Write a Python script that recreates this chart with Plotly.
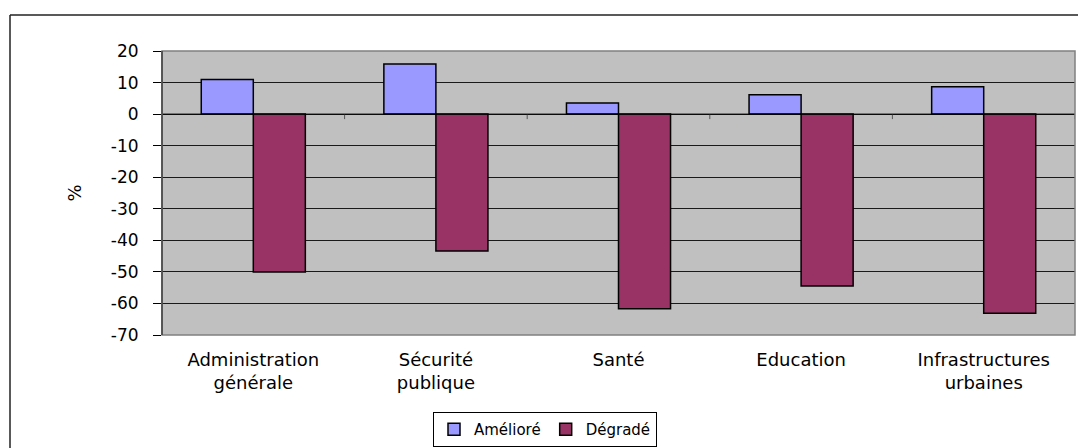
import plotly.graph_objects as go

categories = ["Administration<br>générale", "Sécurité<br>publique", "Santé", "Education", "Infrastructures<br>urbaines"]
ameliore = [11.0, 15.9, 3.5, 6.1, 8.7]
degrade = [-50.0, -43.4, -61.7, -54.5, -63.1]
ytick_vals = [20, 10, 0, -10, -20, -30, -40, -50, -60, -70]
ytick_text = ["20", "10", "0", "-10", "-20", "-30", "-40", "-50", "-60", "-70"]

FONT = "DejaVu Sans"
W, H = 1078, 448
L, R, T, B = 162, 3, 51, 113
pw, ph = W - L - R, H - T - B

fig = go.Figure()
fig.add_trace(go.Bar(name="Amélioré", x=list(range(len(categories))), y=ameliore,
                     marker=dict(color="#9999FF", line=dict(color="#000000", width=1.5))))
fig.add_trace(go.Bar(name="Dégradé", x=list(range(len(categories))), y=degrade,
                     marker=dict(color="#993366", line=dict(color="#000000", width=1.5))))

shapes = []
# category tick marks on the zero line
for i in range(len(categories) + 1):
    shapes.append(dict(type="line", xref="x", yref="y", x0=i - 0.5, x1=i - 0.5,
                       ysizemode="pixel", yanchor=0, y0=0, y1=-5,
                       line=dict(color="#555555", width=1)))
# zero line
shapes.append(dict(type="line", xref="paper", yref="y", x0=0, x1=1, y0=0, y1=0,
                   line=dict(color="#000000", width=1)))
# outer chart border (top and left visible)
def px2x(px):
    return (px - L) / pw
def py2y(py):
    return (H - B - py) / ph
shapes.append(dict(type="line", xref="paper", yref="paper", x0=px2x(10), x1=px2x(1090),
                   y0=py2y(15), y1=py2y(15), line=dict(color="#222222", width=1.5)))
shapes.append(dict(type="line", xref="paper", yref="paper", x0=px2x(10), x1=px2x(10),
                   y0=py2y(15), y1=py2y(460), line=dict(color="#222222", width=1.5)))
# plot area border
shapes.append(dict(type="rect", xref="paper", yref="paper", x0=0, x1=1, y0=0, y1=1,
                   line=dict(color="#808080", width=1.5), layer="above"))
shapes.append(dict(type="line", xref="paper", yref="paper", x0=0, x1=0, y0=0, y1=1,
                   line=dict(color="#404040", width=1.5), layer="above"))

fig.update_layout(
    width=W, height=H,
    margin=dict(l=L, r=R, t=T, b=B, pad=0),
    paper_bgcolor="white",
    plot_bgcolor="#C0C0C0",
    barmode="group",
    bargap=0.43,
    bargroupgap=0,
    font=dict(family=FONT, size=17, color="#000000"),
    showlegend=True,
    legend=dict(orientation="h", xref="container", yref="container",
                x=545 / W, xanchor="center", y=1 - 412 / H, yanchor="top",
                bordercolor="#000000", borderwidth=1, bgcolor="white",
                font=dict(family=FONT, size=15), traceorder="normal",
                itemwidth=30),
    shapes=shapes,
    xaxis=dict(range=[-0.5, len(categories) - 0.5], tickvals=list(range(len(categories))),
               ticktext=categories, showgrid=False, zeroline=False, showline=False,
               ticks="", ticklabelstandoff=12, automargin=False,
               tickfont=dict(family=FONT, size=18)),
    yaxis=dict(range=[-70, 20], tickvals=ytick_vals, ticktext=ytick_text,
               showgrid=True, gridcolor="#1a1a1a", gridwidth=1, zeroline=False,
               showline=False, ticks="outside", ticklen=8, tickcolor="#000000",
               ticklabelstandoff=11, automargin=False,
               tickfont=dict(family=FONT, size=17),
               title=dict(text="%", standoff=24, font=dict(family=FONT, size=18))),
)

fig.write_html("out.html", config={"displayModeBar": False},
               post_script="document.body.style.margin='0';")
